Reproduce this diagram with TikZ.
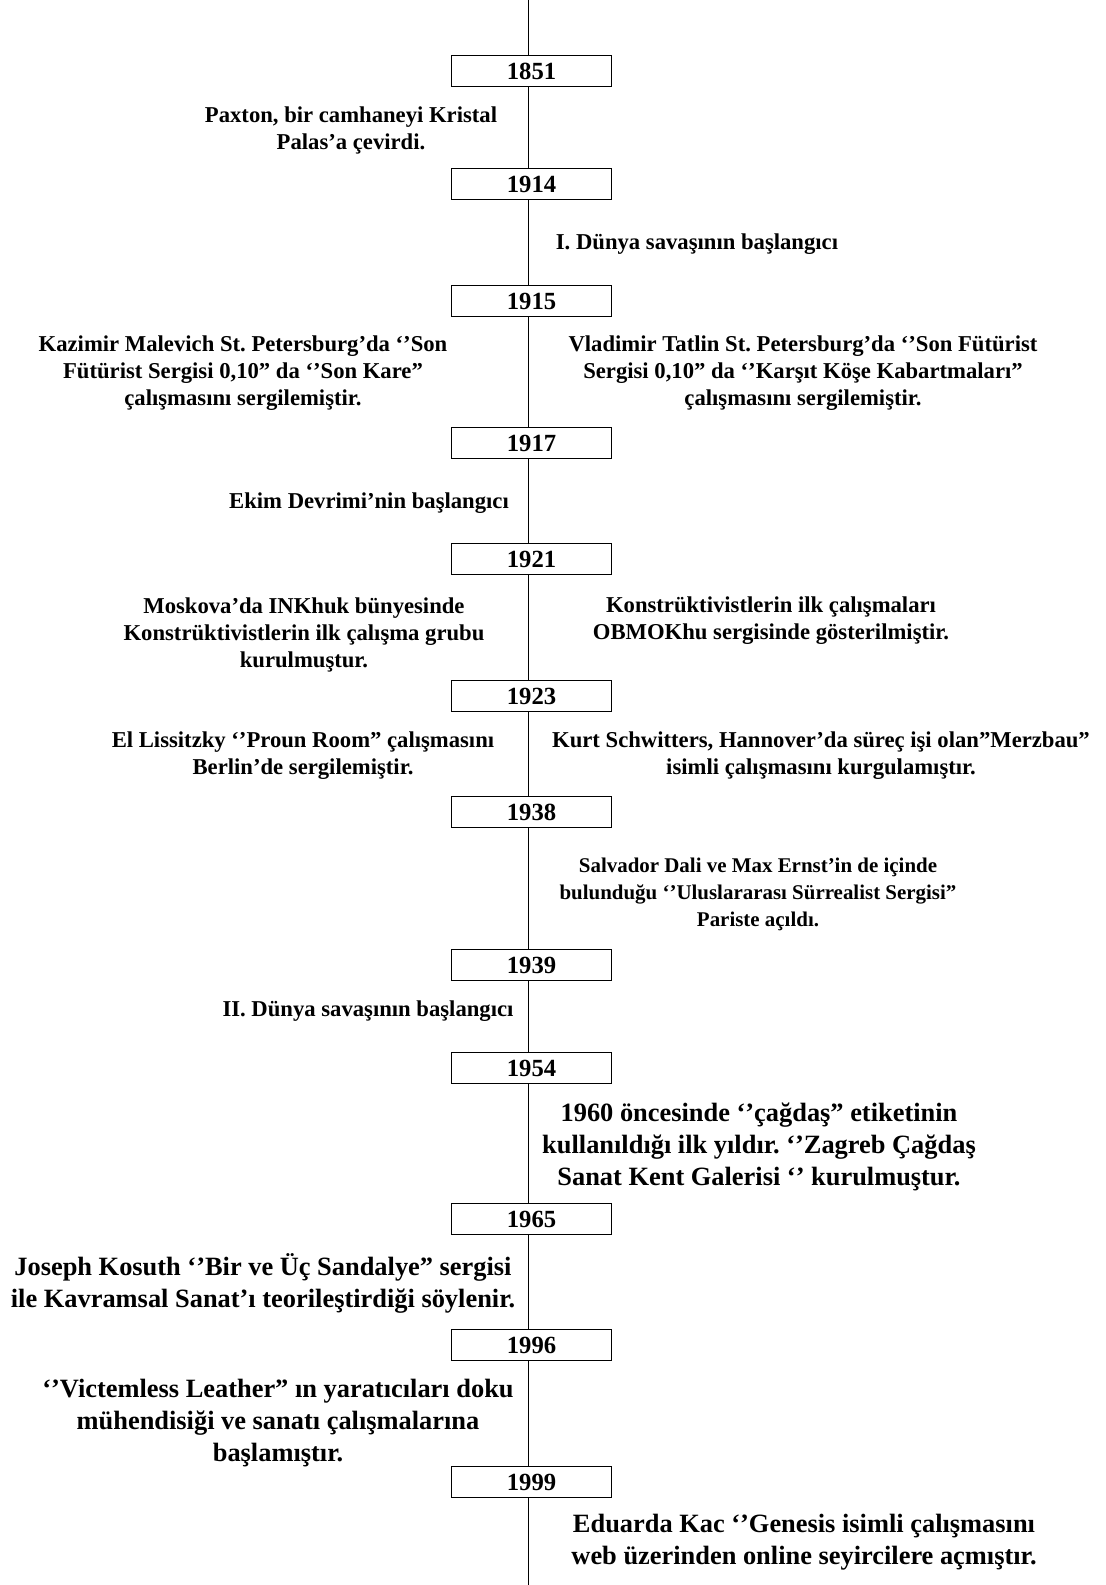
\documentclass[tikz,border=0pt]{standalone}
\usepackage{fontspec}
\setmainfont{Liberation Serif}
\frenchspacing
\begin{document}
\begin{tikzpicture}[x=0.75pt,y=-0.75pt,
year box/.style={draw=black,fill=white,line width=1.3pt,minimum width=120pt,minimum height=23.25pt,inner sep=0pt,font=\bfseries\fontsize{18.5}{20}\selectfont},
event/.style={align=center,inner sep=0pt,text=black,font=\bfseries\fontsize{17}{20.25}\selectfont},
small event/.style={event,font=\bfseries\fontsize{15.7}{20.25}\selectfont},
big event/.style={event,font=\bfseries\fontsize{19.8}{24}\selectfont}]
\useasboundingbox (0,0) rectangle (1106,1585);
\coordinate (top) at (528.5,0);
\coordinate (bottom) at (528.5,1585);
\foreach \yr/\ypos in {1851/71,1914/184,1915/301,1917/443,1921/559,1923/696,1938/812,1939/965,1954/1068,1965/1219,1996/1345,1999/1482}
  \node[year box] (y\yr) at (531.5,\ypos) {\yr};
\begin{scope}[line width=0.9pt]
\foreach \a/\b in {top/y1851,y1851/y1914,y1914/y1915,y1915/y1917,y1917/y1921,y1921/y1923,y1923/y1938,y1938/y1939,y1939/y1954,y1954/y1965,y1965/y1996,y1996/y1999,y1999/bottom}
  \draw (\a.south -| top) -- (\b.north -| top);
\end{scope}
\node[event] (paxton) at (351,130) {Paxton, bir camhaneyi Kristal\\Palas’a çevirdi.};
\node[event] (ww1) at (697,244) {I. Dünya savaşının başlangıcı};
\node[event] (malevich) at (243,373) {Kazimir Malevich St. Petersburg’da ‘’Son\\Fütürist Sergisi 0,10” da ‘’Son Kare”\\çalışmasını sergilemiştir.};
\node[event] (tatlin) at (803,373) {Vladimir Tatlin St. Petersburg’da ‘’Son Fütürist\\Sergisi 0,10” da ‘’Karşıt Köşe Kabartmaları”\\çalışmasını sergilemiştir.};
\node[event] (ekim) at (369,503) {Ekim Devrimi’nin başlangıcı};
\node[event] (inkhuk) at (304,635) {Moskova’da INKhuk bünyesinde\\Konstrüktivistlerin ilk çalışma grubu\\kurulmuştur.};
\node[event] (obmokhu) at (771,621) {Konstrüktivistlerin ilk çalışmaları\\OBMOKhu sergisinde gösterilmiştir.};
\node[event] (proun) at (303,756) {El Lissitzky ‘’Proun Room” çalışmasını\\Berlin’de sergilemiştir.};
\node[event] (merzbau) at (821,756) {Kurt Schwitters, Hannover’da süreç işi olan”Merzbau”\\isimli çalışmasını kurgulamıştır.};
\node[small event] (surreal) at (758,894) {Salvador Dali ve Max Ernst’in de içinde\\bulunduğu ‘’Uluslararası Sürrealist Sergisi”\\Pariste açıldı.};
\node[event] (ww2) at (368,1011) {II. Dünya savaşının başlangıcı};
\node[big event] (zagreb) at (759,1147) {1960 öncesinde ‘’çağdaş” etiketinin\\kullanıldığı ilk yıldır. ‘’Zagreb Çağdaş\\Sanat Kent Galerisi ‘’ kurulmuştur.};
\node[big event] (kosuth) at (263,1283) {Joseph Kosuth ‘’Bir ve Üç Sandalye” sergisi\\ile Kavramsal Sanat’ı teorileştirdiği söylenir.};
\node[big event] (leather) at (278,1423) {‘’Victemless Leather” ın yaratıcıları doku\\mühendisiği ve sanatı çalışmalarına\\başlamıştır.};
\node[big event] (genesis) at (804,1542) {Eduarda Kac ‘’Genesis isimli çalışmasını\\web üzerinden online seyircilere açmıştır.};
\end{tikzpicture}
\end{document}
